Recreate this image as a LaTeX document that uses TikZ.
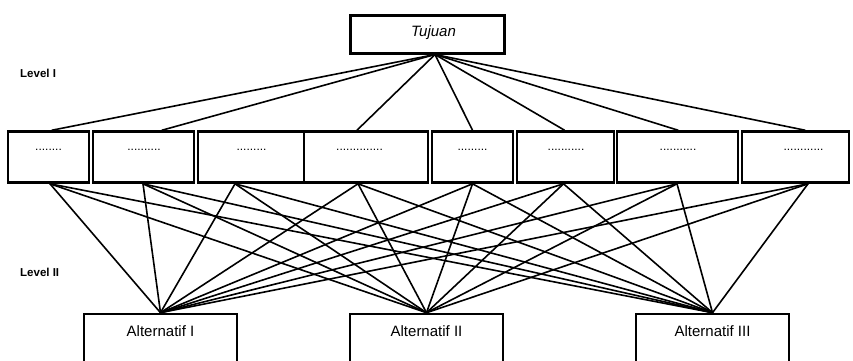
\documentclass[tikz,border=0pt]{standalone}
\usepackage{fontspec}
\setmainfont{Liberation Sans}
\begin{document}
\begin{tikzpicture}[x=1pt,y=-1pt,
  box/.style={draw, rectangle, line width=2.6pt, inner sep=0pt},
  crit/.style={box, minimum width=#1, minimum height=51pt},
  altbox/.style={box, minimum width=153pt, minimum height=70pt},
  wire/.style={line width=1.6pt, line cap=round},
  dots/.style={anchor=base, inner sep=0pt, font=\fontsize{12}{12}\selectfont},
  lvl/.style={anchor=base west, inner sep=0pt, font=\bfseries\fontsize{11.5}{12}\selectfont},
  alttext/.style={anchor=base, inner sep=0pt, font=\fontsize{15}{15}\selectfont}]
\useasboundingbox (0,0) rectangle (853,360);
\clip (0,0) rectangle (853,360);

% goal
\node[box, line width=3pt, minimum width=154pt, minimum height=38pt] (goal) at (427,34) {};
\node[anchor=base, inner sep=0pt, font=\itshape\fontsize{15}{15}\selectfont] (goaltext) at (433.5,36) {Tujuan};

% level labels
\node[lvl] (lv1) at (20,77) {Level I};
\node[lvl] (lv2) at (20,276) {Level II};

% criteria row
\node[crit=81pt]  (b1) at (48.5,157) {};
\node[crit=101pt] (b2) at (143.5,157) {};
\node[crit=106pt] (b3) at (251,157) {};
\node[crit=124pt] (b4) at (366,157) {};
\node[crit=81pt]  (b5) at (472.5,157) {};
\node[crit=97pt]  (b6) at (565.5,157) {};
\node[crit=121pt] (b7) at (677.5,157) {};
\node[crit=107pt] (b8) at (795.5,157) {};

\node[dots] (t1) at (48.5,150) {........};
\node[dots] (t2) at (144,150) {..........};
\node[dots] (t3) at (251.5,150) {.........};
\node[dots] (t4) at (359.5,150) {..............};
\node[dots] (t5) at (472.5,150) {.........};
\node[dots] (t6) at (566,150) {...........};
\node[dots] (t7) at (678,150) {...........};
\node[dots] (t8) at (803.5,150) {............};

% alternatives
\node[altbox] (alt1) at (160.5,349) {};
\node[altbox] (alt2) at (426.5,349) {};
\node[altbox] (alt3) at (712.5,349) {};
\node[alttext] (a1t) at (160.5,336) {Alternatif I};
\node[alttext] (a2t) at (426.5,336) {Alternatif II};
\node[alttext] (a3t) at (712.5,336) {Alternatif III};

% goal to criteria
\foreach \b/\t in {b1/3.5, b2/18.5, b4/-9, b5/0, b6/-1, b7/0.5, b8/9.5}
  \draw[wire] ([xshift=8pt]goal.south) -- ([xshift=\t pt]\b.north);

% criteria to alternatives
\foreach \b/\s in {b1/1.5, b2/-0.5, b3/-16, b4/-8, b5/0, b6/-2, b7/-0.5, b8/12.5}
  \foreach \a in {alt1, alt2, alt3}
    \draw[wire] ([xshift=\s pt]\b.south) -- (\a.north);
\end{tikzpicture}
\end{document}
